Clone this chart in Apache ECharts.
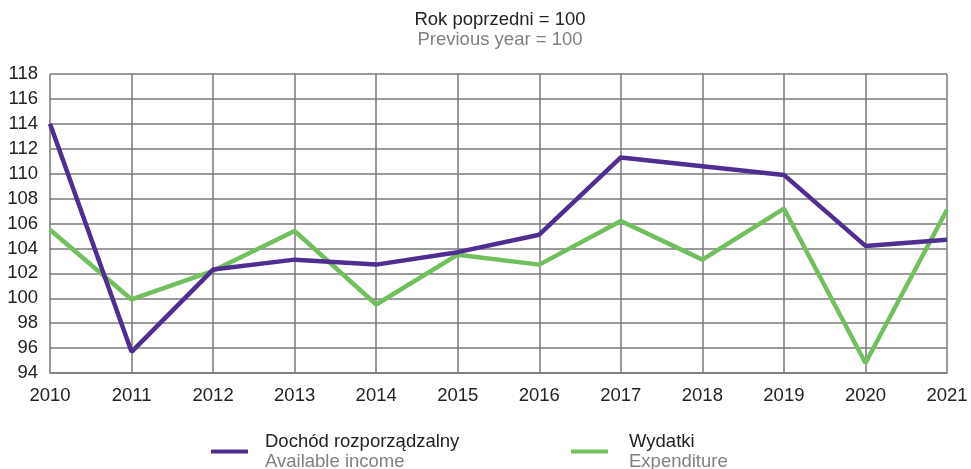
<!DOCTYPE html>
<html>
<head>
<meta charset="utf-8">
<script src="https://cdn.jsdelivr.net/npm/echarts@6/dist/echarts.min.js"></script>
<style>
  html, body { margin: 0; padding: 0; background: #fff; }
  #chart { width: 971px; height: 469px; }
</style>
</head>
<body>
<div id="chart"></div>
<script>
// years on the x axis
const years = ["2010", "2011", "2012", "2013", "2014", "2015", "2016", "2017", "2018", "2019", "2020", "2021"];
// previous year = 100
const income = [114.0, 95.7, 102.3, 103.1, 102.7, 103.7, 105.1, 111.3, 110.6, 109.9, 104.2, 104.7];
const expenditure = [105.5, 99.9, 102.2, 105.4, 99.5, 103.5, 102.7, 106.2, 103.1, 107.2, 94.8, 107.1];

const incomeName = "Dochód rozporządzalny";
const incomeSub = "Available income";
const expName = "Wydatki";
const expSub = "Expenditure";

const purple = "#4f2d91";
const green = "#72bf5e";
const gridColor = "#7a7a7a";
const font = "Liberation Sans, Arial, sans-serif";
const fs = 18.5;

const subs = { [incomeName]: incomeSub, [expName]: expSub };

// one legend per series, each placed under the chart on its own
function legendAt(left, name, gap) {
  return {
    orient: "horizontal",
    top: 432,
    left: left,
    padding: 0,
    data: [name],
    icon: "rect",
    itemWidth: 37,
    itemHeight: 4,
    formatter: (n) => "{a|" + n + "}\n{b|" + subs[n] + "}",
    textStyle: {
      padding: [0, 0, 0, gap],
      rich: {
        a: { fontSize: fs, color: "#222", fontFamily: font, lineHeight: 20 },
        b: { fontSize: fs, color: "#808080", fontFamily: font, lineHeight: 20 },
      },
    },
  };
}

const chart = echarts.init(document.getElementById("chart"));

chart.setOption({
  animation: false,
  title: {
    text: "Rok poprzedni = 100",
    subtext: "Previous year = 100",
    left: 500,
    top: 10,
    padding: 0,
    textAlign: "center",
    itemGap: 0,
    textStyle: { fontSize: fs, fontWeight: "normal", color: "#222", fontFamily: font, lineHeight: 20 },
    subtextStyle: { fontSize: fs, color: "#808080", fontFamily: font, lineHeight: 20 },
  },
  legend: [legendAt(211, incomeName, 12), legendAt(571, expName, 16)],
  grid: { left: 50, right: 24, top: 74, bottom: 96, containLabel: false },
  xAxis: {
    type: "category",
    data: years,
    boundaryGap: false,
    axisLine: { show: true, lineStyle: { color: gridColor, width: 1.5 } },
    axisTick: { show: false },
    axisLabel: { fontSize: fs, color: "#222", fontFamily: font, margin: 13 },
    splitLine: { show: true, lineStyle: { color: gridColor, width: 1.5 } },
  },
  yAxis: {
    type: "value",
    min: 94,
    max: 118,
    interval: 2,
    axisLine: { show: false },
    axisTick: { show: false },
    axisLabel: { fontSize: fs, color: "#222", fontFamily: font, margin: 12 },
    splitLine: { show: true, lineStyle: { color: gridColor, width: 1.5 } },
  },
  series: [
    {
      name: incomeName,
      type: "line",
      data: income,
      symbol: "none",
      color: purple,
      lineStyle: { width: 4.5, color: purple },
      z: 3,
    },
    {
      name: expName,
      type: "line",
      data: expenditure,
      symbol: "none",
      color: green,
      lineStyle: { width: 4.5, color: green },
      z: 2,
    },
  ],
});
</script>
</body>
</html>
